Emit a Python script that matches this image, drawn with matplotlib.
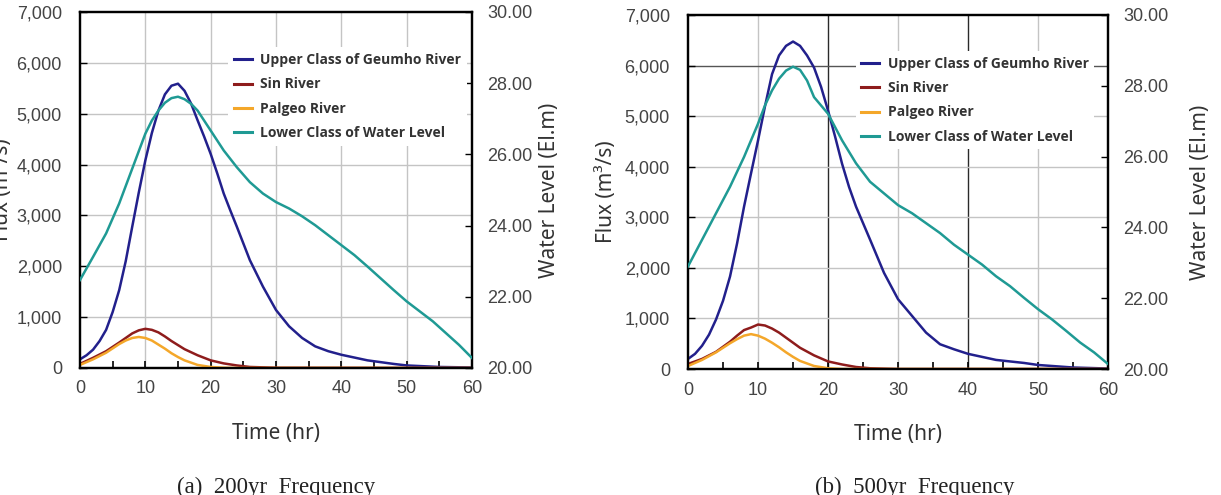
import numpy as np
import matplotlib
matplotlib.use("Agg")
import matplotlib.pyplot as plt

# time axis (hr)
t_flux = [0, 1, 2, 3, 4, 5, 6, 7, 8, 9, 10, 11, 12, 13, 14, 15, 16, 17, 18, 19, 20, 21, 22, 23, 24,
          26, 28, 30, 32, 34, 36, 38, 40, 44, 48, 50, 55, 60]
t_small = [0, 2, 4, 6, 7, 8, 9, 10, 11, 12, 13, 14, 15, 16, 18, 20, 22, 24, 26, 30, 60]
t_wl = [0, 2, 4, 6, 8, 10, 11, 12, 13, 14, 15, 16, 17, 18, 20, 22, 24, 26, 28, 30, 32, 34, 36, 38, 40,
        42, 44, 46, 48, 50, 52, 54, 56, 58, 60]

# (a) 200yr
geumho_200 = [170, 250, 360, 530, 750, 1100, 1530, 2100, 2780, 3450, 4080, 4620, 5060, 5380, 5550,
              5590, 5450, 5200, 4870, 4550, 4210, 3830, 3430, 3100, 2780, 2120, 1600, 1140, 820,
              590, 425, 330, 260, 150, 80, 50, 20, 10]
sin_200 = [80, 200, 330, 500, 590, 680, 740, 770, 750, 700, 620, 530, 450, 370, 250, 150, 90, 50,
           20, 5, 0]
palgeo_200 = [60, 170, 300, 470, 540, 590, 610, 590, 540, 460, 380, 290, 215, 150, 60, 20, 5, 0,
              0, 0, 0]
level_200 = [22.47, 23.12, 23.78, 24.62, 25.60, 26.58, 26.95, 27.23, 27.45, 27.58, 27.62, 27.55,
             27.42, 27.23, 26.67, 26.11, 25.64, 25.22, 24.90, 24.66, 24.48, 24.26, 24.01, 23.73,
             23.45, 23.17, 22.85, 22.52, 22.19, 21.87, 21.59, 21.31, 20.98, 20.65, 20.28]

# (b) 500yr
geumho_500 = [200, 300, 460, 680, 980, 1350, 1830, 2480, 3210, 3870, 4520, 5200, 5830, 6200, 6390,
              6475, 6390, 6200, 5960, 5580, 5110, 4600, 4060, 3600, 3210, 2560, 1900, 1380, 1050,
              720, 490, 390, 300, 180, 120, 80, 30, 10]
sin_500 = [100, 200, 340, 540, 660, 770, 820, 880, 860, 800, 720, 620, 520, 420, 270, 150, 90, 40,
           15, 0, 0]
palgeo_500 = [60, 180, 330, 510, 590, 660, 690, 660, 600, 520, 430, 330, 240, 160, 60, 15, 0, 0,
              0, 0, 0]
level_500 = [22.90, 23.65, 24.40, 25.15, 25.99, 26.93, 27.45, 27.87, 28.20, 28.43, 28.54, 28.45,
             28.15, 27.68, 27.21, 26.46, 25.81, 25.29, 24.96, 24.63, 24.40, 24.12, 23.84, 23.51,
             23.23, 22.95, 22.62, 22.34, 22.01, 21.69, 21.40, 21.08, 20.75, 20.47, 20.14]

labels = ["Upper Class of Geumho River", "Sin River", "Palgeo River", "Lower Class of Water Level"]
colors = ["#22208c", "#8e1c1c", "#f4a72a", "#1f9a94"]
captions = ["(a)  200yr  Frequency", "(b)  500yr  Frequency"]

tick_font = "Liberation Sans"
label_font = "Noto Sans"
grey = "#444444"

fig = plt.figure(figsize=(12.21, 4.95), dpi=100)

panels = [
    dict(rect=[0.0655, 0.2566, 0.3211, 0.7192], data=(geumho_200, sin_200, palgeo_200, level_200),
         leg=(0.36, 0.92), dark=False, cap_x=276 / 1221, wl_x=1.17),
    dict(rect=[0.5635, 0.2545, 0.3440, 0.7152], data=(geumho_500, sin_500, palgeo_500, level_500),
         leg=(0.383, 0.918), dark=True, cap_x=915 / 1221, wl_x=1.195),
]

for i, p in enumerate(panels):
    ax = fig.add_axes(p["rect"])
    ax2 = ax.twinx()
    g, s, pg, wl = p["data"]

    # grid
    for xv in [10, 20, 30, 40, 50]:
        c = "#2a2a2a" if (p["dark"] and xv in (20, 40)) else "#c4c4c4"
        ax.axvline(xv, color=c, lw=1.0, zorder=0)
    for yv in range(1000, 7000, 1000):
        c = "#555555" if (p["dark"] and yv == 6000) else "#c4c4c4"
        ax.axhline(yv, color=c, lw=1.0, zorder=0)

    l1, = ax.plot(t_flux, g, color=colors[0], lw=1.8, zorder=3)
    l2, = ax.plot(t_small, s, color=colors[1], lw=1.8, zorder=3)
    l3, = ax.plot(t_small, pg, color=colors[2], lw=1.8, zorder=3)
    l4, = ax2.plot(t_wl, wl, color=colors[3], lw=1.8, zorder=3)

    ax.set_xlim(0, 60)
    ax.set_ylim(0, 7000)
    ax2.set_ylim(20, 30)
    ax.set_xticks(range(0, 61, 10))
    ax.set_xticks(range(5, 60, 10), minor=True)
    ax.set_yticks(range(0, 7001, 1000))
    ax.set_yticklabels([f"{v:,}" for v in range(0, 7001, 1000)])
    ax2.set_yticks(range(20, 31, 2))
    ax2.set_yticklabels([f"{v:.2f}" for v in range(20, 31, 2)])

    ax.tick_params(axis="x", which="both", direction="in", length=5, width=1.2, pad=9,
                   labelsize=13, labelcolor=grey, color="black")
    ax.tick_params(axis="y", direction="in", length=5, width=1.0, pad=13,
                   labelsize=13, labelcolor=grey)
    ax2.tick_params(axis="y", direction="in", length=5, width=1.0, pad=11,
                    labelsize=13, labelcolor=grey)
    for lab in ax.get_xticklabels() + ax.get_yticklabels() + ax2.get_yticklabels():
        lab.set_fontfamily(tick_font)

    for sp in ax2.spines.values():
        sp.set_linewidth(1.6)
        sp.set_color("black")
    for sp in ax.spines.values():
        sp.set_linewidth(1.6)

    ax.set_xlabel("Time (hr)", fontsize=15, family=label_font, color="#333333")
    ax.xaxis.set_label_coords(0.5, -0.155)
    ax.set_ylabel("Flux (m³/s)", fontsize=15, family=label_font, color="#333333")
    ax.yaxis.set_label_coords(-0.17, 0.5)
    ax2.set_ylabel("Water Level (El.m)", fontsize=15, family=label_font, color="#333333")
    ax2.yaxis.set_label_coords(p["wl_x"], 0.5)

    leg = ax2.legend([l1, l2, l3, l4], labels, loc="upper left", bbox_to_anchor=p["leg"],
                     frameon=True, fancybox=False, edgecolor="none", facecolor="white",
                     framealpha=1.0, handlelength=1.3, handletextpad=0.6, labelspacing=0.75,
                     borderpad=0.4,
                     prop=dict(family=["Open Sans", "DejaVu Sans"], weight="bold", size=10))
    for txt in leg.get_texts():
        txt.set_color("#333333")
    for h in leg.get_lines():
        h.set_linewidth(2.2)

    fig.text(p["cap_x"], 1 - 477 / 495, captions[i], ha="center", va="top",
             fontsize=16.5, family="Liberation Serif", color="#222222")

plt.savefig("out.png", dpi=100)
